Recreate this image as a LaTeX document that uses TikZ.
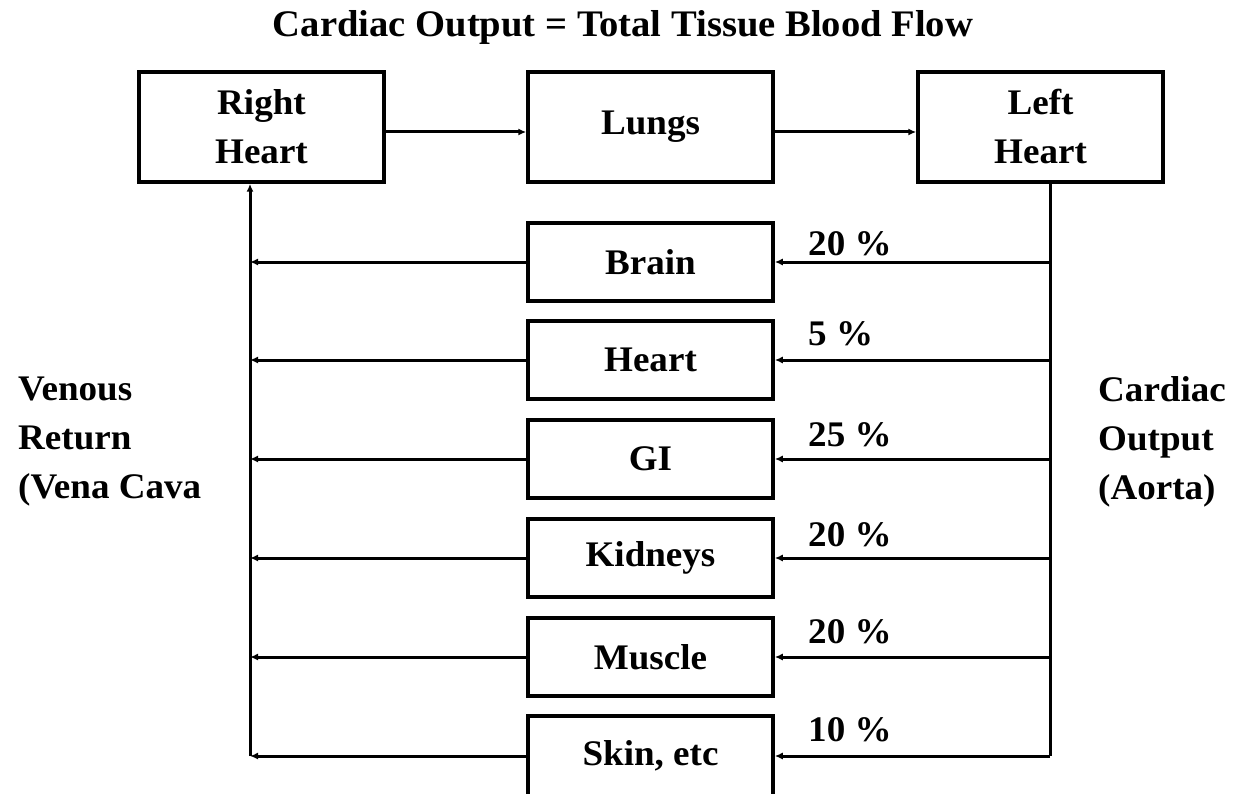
\documentclass[tikz,border=0pt]{standalone}
\usepackage{fontspec}
\setmainfont{Liberation Serif}[FakeStretch=1.03]
\usetikzlibrary{arrows.meta}
\begin{document}
\begin{tikzpicture}[x=1pt,y=-1pt,
  lbl/.style={font=\bfseries\fontsize{36}{49}\selectfont, inner sep=0pt},
  box/.style={lbl, draw, line width=3.5pt, minimum width=245pt, align=center},
  topbox/.style={box, minimum height=110pt},
  orgbox/.style={box, minimum height=78pt},
  arr/.style={line width=3pt, -{Latex[length=8pt,width=7pt]}},
  ln/.style={line width=3pt},
  pct/.style={lbl, anchor=west}]
\clip (0,0) rectangle (1233,794);
\fill[white] (0,0) rectangle (1233,794);

\node[lbl, font=\bfseries\fontsize{37.5}{49}\selectfont] (title) at (623,27) {Cardiac Output = Total Tissue Blood Flow};

\node[topbox] (RH) at (261.5,127) {Right\\Heart};
\node[topbox] (LU) at (650.5,127) {Lungs};
\node[topbox] (LH) at (1040.5,127) {Left\\Heart};

\node[orgbox] (brain) at (650.5,262) {Brain};
\node[orgbox] (heart) at (650.5,360) {Heart};
\node[orgbox] (gi) at (650.5,459) {GI};
\node[orgbox] (kid) at (650.5,558) {Kidneys};
\node[orgbox] (mus) at (650.5,657) {Muscle};
\node[orgbox, minimum height=80pt] (skin) at (650.5,756) {Skin, etc};

\coordinate (ao) at (1050,0);
\coordinate (vc) at (250,0);

\draw[arr] (RH.east |- 0,132) -- (LU.west |- 0,132);
\draw[arr] (LU.east |- 0,132) -- (LH.west |- 0,132);

\draw[ln] (LH.south -| ao) -- (skin.east -| ao);
\draw[arr] (skin.west -| vc) -- (RH.south -| vc);

\foreach \o in {brain,heart,gi,kid,mus,skin}{
  \draw[arr] (\o.east -| ao) -- (\o.east);
  \draw[arr] (\o.west) -- (\o.west -| vc);
}

\node[pct] (p1) at (808,244) {20 \%};
\node[pct] (p2) at (808,334) {5 \%};
\node[pct] (p3) at (808,435) {25 \%};
\node[pct] (p4) at (808,535) {20 \%};
\node[pct] (p5) at (808,632) {20 \%};
\node[pct] (p6) at (808,730) {10 \%};

\node[lbl, anchor=west, align=left] (ven) at (18,442) {Venous\\Return\\(Vena Cava};
\node[lbl, anchor=west, align=left] (co) at (1098,442) {Cardiac\\Output\\(Aorta)};
\end{tikzpicture}
\end{document}
